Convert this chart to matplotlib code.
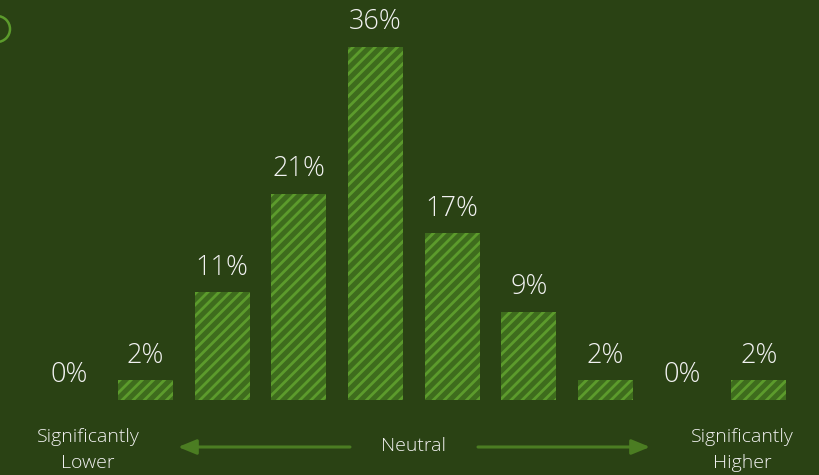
import matplotlib.pyplot as plt
from matplotlib.patches import Ellipse

# Distribution of responses, from significantly lower to significantly higher
categories = list(range(10))
shares = [0, 2, 11, 21, 36, 17, 9, 2, 0, 2]
bar_labels = ["0%", "2%", "11%", "21%", "36%", "17%", "9%", "2%", "0%", "2%"]

bg = "#2a4214"
stripe_dark = "#3e6c1d"
stripe_light = "#5c9b2c"
arrow_col = "#4b7d22"
text_col = "#f2f2f2"

W, H = 820, 475

plt.rcParams['font.family'] = ['Open Sans', 'DejaVu Sans']
plt.rcParams['font.weight'] = 'light'
plt.rcParams['hatch.linewidth'] = 2.0
plt.rcParams['hatch.color'] = stripe_light

fig = plt.figure(figsize=(W / 100, H / 100), dpi=100, facecolor=bg)
ax = fig.add_axes([0, 0, 1, 1])
ax.set_facecolor(bg)

ax.bar(categories, shares, width=0.72, color=stripe_dark, edgecolor=stripe_light,
       linewidth=0, hatch='///')

for x, v, lab in zip(categories, shares, bar_labels):
    ax.text(x, v + 1.8, lab, ha='center', va='baseline', fontsize=19.5, color=text_col)

ax.set_xlim(-0.9, 9.8)
ax.set_ylim(-7.65, 40.8)
ax.axis('off')

# scale captions along the bottom
fig.text(88 / W, 1 - 450 / H, "Significantly\nLower", ha='center', va='center',
         fontsize=14, color=text_col, linespacing=1.5)
fig.text(742 / W, 1 - 450 / H, "Significantly\nHigher", ha='center', va='center',
         fontsize=14, color=text_col, linespacing=1.5)
fig.text(414 / W, 1 - 446 / H, "Neutral", ha='center', va='center',
         fontsize=14, color=text_col)

arrow_y = 1 - 447 / H
for start, end in [(350, 178), (478, 650)]:
    fig.add_artist(plt.Annotation("", xy=(end / W, arrow_y), xytext=(start / W, arrow_y),
                                  xycoords='figure fraction', textcoords='figure fraction',
                                  arrowprops=dict(arrowstyle='-|>,head_length=1.1,head_width=0.45',
                                                  color=arrow_col, lw=2.2, shrinkA=0, shrinkB=0)))

# ring peeking in at the top-left corner
fig.add_artist(Ellipse((-3 / W, 1 - 29 / H), 26 / W, 26 / H, transform=fig.transFigure,
                       fill=False, edgecolor=stripe_light, lw=1.8))

fig.savefig("out.png", dpi=100, facecolor=bg)
